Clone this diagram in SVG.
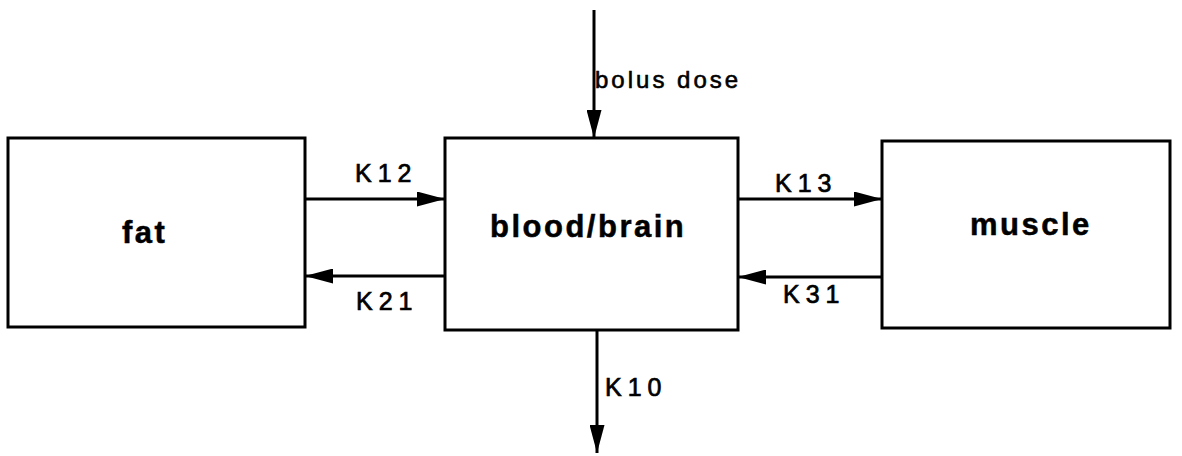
<svg xmlns="http://www.w3.org/2000/svg" width="1182" height="456" viewBox="0 0 1182 456">
  <style>
    .box { fill: #fff; stroke: #000; stroke-width: 3; }
    .conn { stroke: #000; stroke-width: 3; fill: none; marker-end: url(#ah); }
    .big { font-family: "Liberation Sans", Arial, sans-serif; font-weight: bold; font-size: 31px; letter-spacing: 2.5px; fill: #000; stroke: #000; stroke-width: 0.5px; }
    .lbl { font-family: "Liberation Sans", Arial, sans-serif; font-size: 25px; letter-spacing: 6px; fill: #000; stroke: #000; stroke-width: 0.7px; }
    .bol { font-family: "Liberation Sans", Arial, sans-serif; font-size: 24px; letter-spacing: 3px; fill: #000; stroke: #000; stroke-width: 0.6px; }
  </style>
  <defs>
    <marker id="ah" markerUnits="userSpaceOnUse" markerWidth="29" markerHeight="15" refX="28" refY="7.5" orient="auto">
      <path d="M0,0 L28,7.5 L0,15 Z" fill="#000"/>
    </marker>
  </defs>
  <rect width="1182" height="456" fill="#fff"/>
  <g id="fat">
    <rect class="box" x="8" y="138" width="297" height="189"/>
    <text class="big" x="122" y="243">fat</text>
  </g>
  <g id="blood-brain">
    <rect class="box" x="445" y="138" width="293" height="192"/>
    <text class="big" x="490" y="237">blood/brain</text>
  </g>
  <g id="muscle">
    <rect class="box" x="882" y="141" width="288" height="187"/>
    <text class="big" x="970" y="235">muscle</text>
  </g>
  <g id="connectors">
    <line class="conn" x1="305" y1="199" x2="445" y2="199"/>
    <line class="conn" x1="445" y1="276" x2="305" y2="276"/>
    <line class="conn" x1="738" y1="199" x2="882" y2="199"/>
    <line class="conn" x1="882" y1="277" x2="738" y2="277"/>
    <line class="conn" x1="594" y1="10" x2="594" y2="138"/>
    <line class="conn" x1="597" y1="330" x2="597" y2="453"/>
    <text class="lbl" x="355" y="182">K12</text>
    <text class="lbl" x="356" y="310">K21</text>
    <text class="lbl" x="775" y="192">K13</text>
    <text class="lbl" x="783" y="303">K31</text>
    <text class="lbl" x="605" y="396">K10</text>
    <text class="bol" x="595" y="88">bolus dose</text>
  </g>
</svg>
